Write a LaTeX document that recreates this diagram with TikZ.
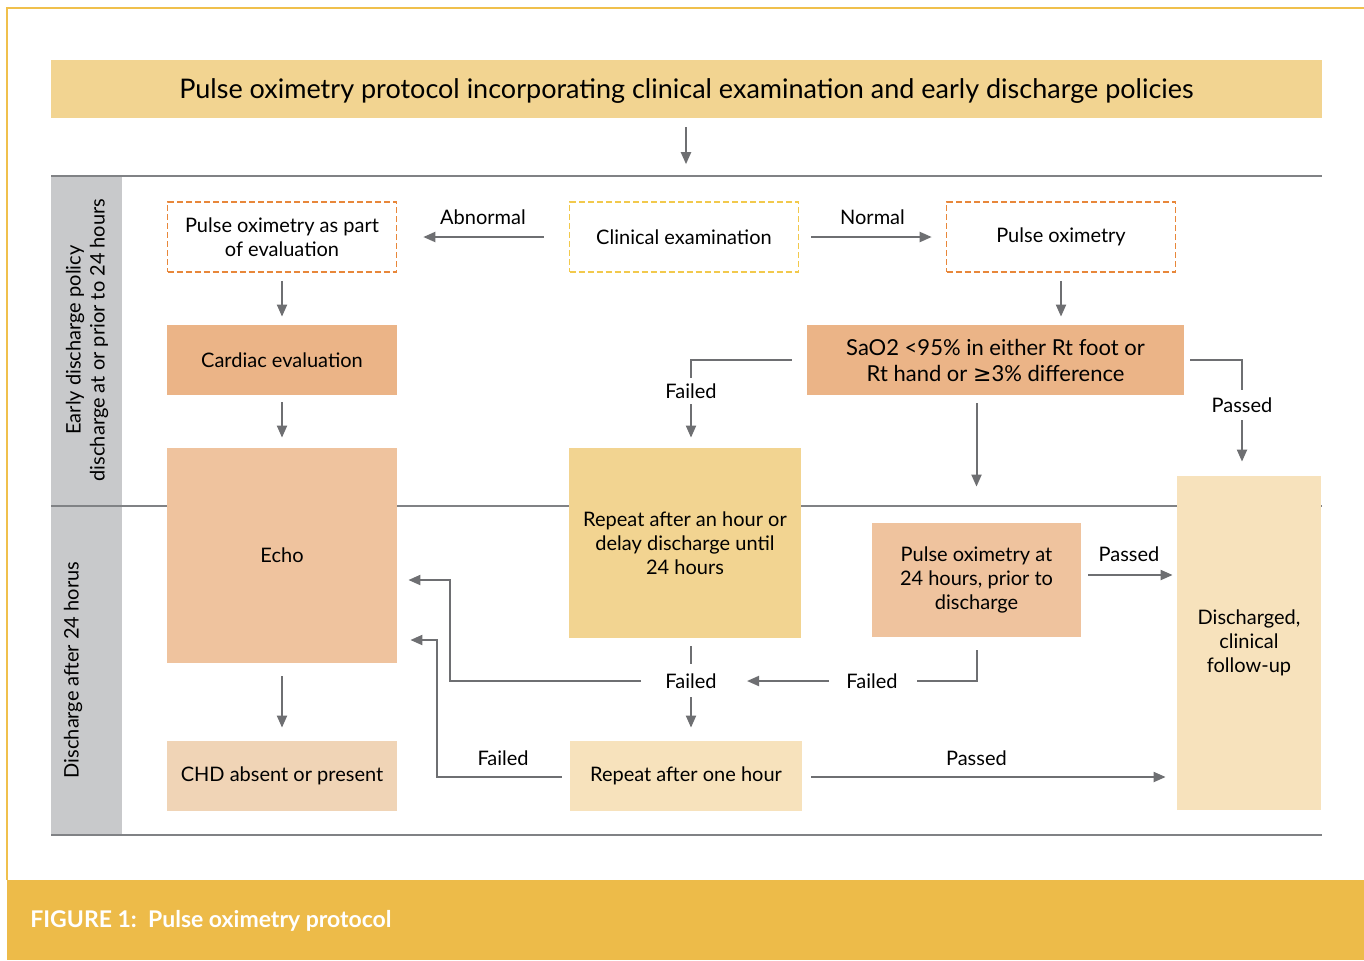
\documentclass[tikz,border=0pt]{standalone}
\usepackage{fontspec}
\setmainfont{Lato}
\newfontfamily\symfont{DejaVu Sans}
\usetikzlibrary{arrows.meta,calc,positioning}

\definecolor{bordergold}{HTML}{F0C04C}
\definecolor{captiongold}{HTML}{EDBB49}
\definecolor{titlegold}{HTML}{F2D491}
\definecolor{sidegray}{HTML}{C8C9CB}
\definecolor{rulegray}{HTML}{808285}
\definecolor{linegray}{HTML}{6E6F72}
\definecolor{dashorange}{HTML}{E8873A}
\definecolor{dashyellow}{HTML}{F2C94C}
\definecolor{boxorange}{HTML}{EBB487}
\definecolor{boxpeach}{HTML}{EFC39E}
\definecolor{boxsand}{HTML}{F0D4B6}
\definecolor{boxcream}{HTML}{F7E2BC}

\begin{document}
\begin{tikzpicture}[
      x=0.5pt, y=-0.5pt, font=\fontsize{10}{12}\selectfont,
      line/.style={draw=linegray, line width=1pt},
      arr/.style={line, -{Triangle[length=6pt,width=5pt]}},
      dashbox/.style={dashed, dash pattern=on 3pt off 1.5pt, line width=0.8pt,
        minimum width=114.5pt, minimum height=35pt, align=center},
      box/.style={minimum width=115pt, minimum height=35pt, align=center, inner sep=2pt},
      lbl/.style={inner sep=0pt},
      rule/.style={draw=rulegray, line width=0.8pt}]

      \useasboundingbox (0,0) rectangle (1364,960);

      % Frame and bands
      \draw[bordergold, line width=1pt] (7,880) |- (1364,8);
      \fill[captiongold] (7,880) rectangle (1364,960);
      \node[anchor=west, inner sep=0pt, text=white, font=\fontsize{11.5}{13}\selectfont\bfseries] (caption) at (30,921) {FIGURE 1:\ \ Pulse oximetry protocol};
      \fill[titlegold] (51,60) rectangle (1322,118);
      \node[font=\fontsize{13.5}{15}\selectfont] (title) at (686.5,91) {Pulse oximetry protocol incorporating clinical examination and early discharge policies};
      \coordinate (titlebot) at (686,118);
      \fill[sidegray] (51,176) rectangle (122,835);
      \draw[rule] (51,176) -- (1322,176);
      \draw[rule] (51,506) -- (1322,506);
      \draw[rule] (51,835) -- (1322,835);
      \node[rotate=90, align=center] (early) at (87,340) {Early discharge policy\\discharge at or prior to 24 hours};
      \node[rotate=90] (late) at (73,670) {Discharge after 24 horus};

      % Nodes
      \node[dashbox, draw=dashorange] (eval) at (282,237) {Pulse oximetry as part\\of evaluation};
      \node[dashbox, draw=dashyellow] (clin) at (684,237) {Clinical examination};
      \node[dashbox, draw=dashorange] (pox) at (1061,237) {Pulse oximetry};
      \node[box, fill=boxorange] (card) at (282,360) {Cardiac evaluation};
      \node[box, fill=boxorange, minimum width=188.5pt, font=\fontsize{11}{13}\selectfont] (sao) at (995.5,360) {SaO2 <95\% in either Rt foot or\\Rt hand or {\symfont ≥}3\% difference};
      \node[box, fill=boxpeach, minimum height=107.5pt] (echo) at (282,555.5) {Echo};
      \node[box, fill=titlegold, minimum width=116pt, minimum height=95pt] (rep1) at (685,543) {Repeat after an hour or\\delay discharge until\\24 hours};
      \node[box, fill=boxpeach, minimum width=104.5pt, minimum height=57pt] (pox24) at (976.5,580) {Pulse oximetry at\\24 hours, prior to\\discharge};
      \node[box, fill=boxcream, minimum width=72pt, minimum height=167pt] (disch) at (1249,643) {Discharged,\\clinical\\follow-up};
      \node[box, fill=boxsand] (chd) at (282,776) {CHD absent or present};
      \node[box, fill=boxcream, minimum width=116pt] (rep2) at (686,776) {Repeat after one hour};

      % Labels on split connectors
      \node[lbl] (fA) at (691,391) {Failed};
      \node[lbl] (pB) at (1242,405) {Passed};
      \node[lbl] (fB) at (872,681) {Failed};
      \node[lbl] (fC) at (691,681) {Failed};

      % Edges
      \draw[arr, shorten <=4.5pt, shorten >=18.5pt] (titlebot) -- (titlebot |- clin.north);
      \draw[arr, shorten <=12.5pt, shorten >=13pt] (clin) -- node[above=2.5pt] {Abnormal} (eval);
      \draw[arr, shorten <=6pt, shorten >=7pt] (clin) -- node[above=2.5pt] {Normal} (pox);
      \draw[arr, shorten <=4pt, shorten >=4pt] (eval) -- (card);
      \draw[arr, shorten <=3.5pt, shorten >=5pt] (card) -- (echo);
      \draw[arr, shorten <=4pt, shorten >=4pt] (pox.south) -- (pox.south |- sao.north);
      \draw[arr, shorten <=4pt, shorten >=18pt] (sao.south -| pox24.north) -- (pox24.north);
      \draw[line, shorten <=7.5pt] (sao.west) -| ([yshift=6.5pt]fA.center);
      \draw[arr, shorten >=5pt] ([yshift=-6.5pt]fA.center) -- (fA |- rep1.north);
      \draw[line, shorten <=3pt] (sao.east) -| ([yshift=7.5pt]pB.center);
      \draw[arr, shorten >=7pt] ([yshift=-7.5pt]pB.center) -- (pB |- disch.north);
      \draw[arr, shorten <=6.5pt, shorten >=6.5pt] (echo) -- (chd);
      \draw[arr, shorten <=3.5pt, shorten >=2pt] ([yshift=2.5pt]pox24.east) -- node[above=3pt] {Passed} ([yshift=2.5pt]pox24.east -| disch.west);
      \draw[line, shorten <=6.5pt] (pox24.south) |- ([xshift=22.5pt]fB.center);
      \draw[arr] ([xshift=-21.5pt]fB.center) -- ([xshift=28pt]fC.center);
      \draw[line, shorten <=4pt] (rep1.south -| fC) -- ([yshift=8.5pt]fC.center);
      \draw[arr, shorten >=6.5pt] ([yshift=-8pt]fC.center) -- (fC |- rep2.north);
      \draw[arr, shorten >=5.5pt] ([xshift=-25pt]fC.center) -- ++(-191,0) |- ([yshift=-12.25pt]echo.east);
      \draw[arr, shorten <=4pt, shorten >=6.5pt] ([yshift=-0.5pt]rep2.west) -- node[above=2pt] {Failed} ++(-133,0) |- ([yshift=-42.25pt]echo.east);
      \draw[arr, shorten <=4.5pt, shorten >=5.5pt] ([yshift=-0.5pt]rep2.east) -- node[above=2pt, pos=0.465] {Passed} ([yshift=-0.5pt]rep2.east -| disch.west);

    \end{tikzpicture}
\end{document}
